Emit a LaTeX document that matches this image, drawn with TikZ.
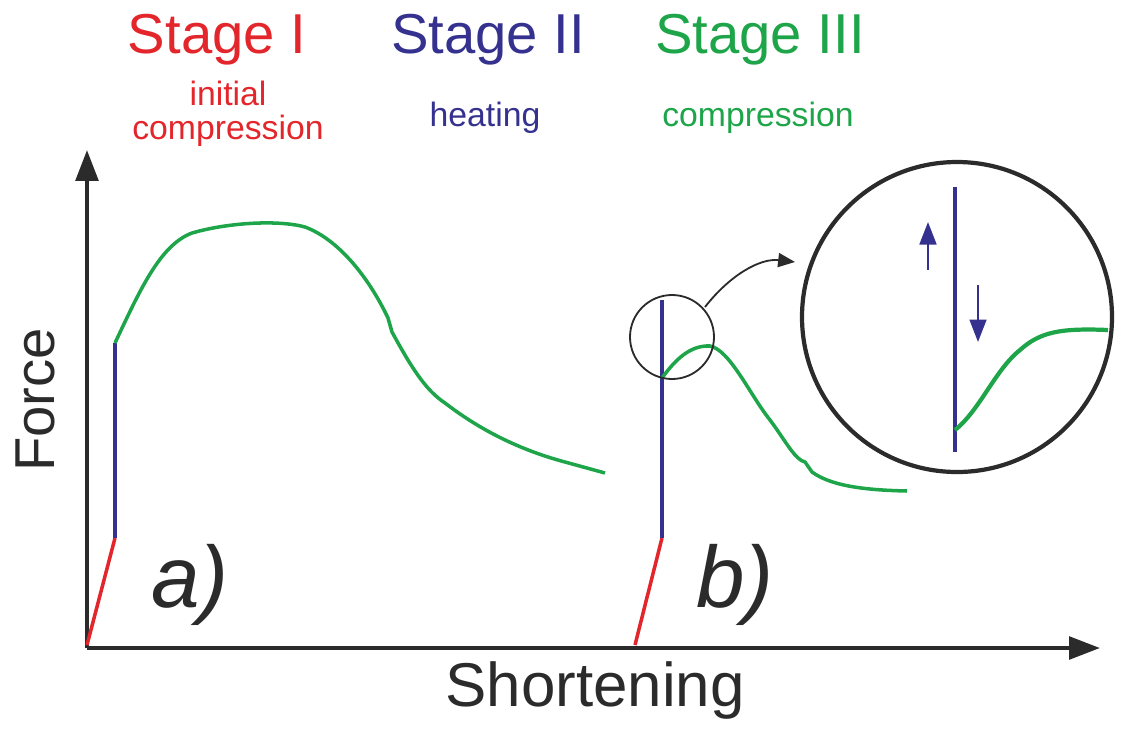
\documentclass[tikz,border=0pt]{standalone}
\usepackage{fontspec}
\setmainfont{Liberation Sans}
\usetikzlibrary{arrows.meta}
\definecolor{cr}{HTML}{E3262B}
\definecolor{cb}{HTML}{35318F}
\definecolor{cg}{HTML}{1EA54A}
\definecolor{ax}{HTML}{2B2B2B}
\begin{document}
\begin{tikzpicture}[x=0.025cm,y=-0.025cm,
  axis/.style={ax,line width=3pt,-{Triangle[length=22pt,width=16pt]}},
  rl/.style={cr,line width=2.5pt},
  bl/.style={cb,line width=2.5pt},
  gl/.style={cg,line width=2.5pt,line join=round},
  big/.style={font=\fontsize{40}{44}\selectfont},
  sub/.style={font=\fontsize{24}{27}\selectfont,align=center}]
\useasboundingbox (0,0) rectangle (1126,732);
\coordinate (o) at (87,648);
\coordinate (ytop) at (87,150);
\coordinate (xend) at (1100,648);
\draw[axis] (o) -- (ytop);
\draw[axis] (o) -- (xend);
% curve a
\coordinate (a0) at (87,645);
\coordinate (a1) at (115,538);
\coordinate (a2) at (115,343);
\draw[rl] (a0) -- (a1);
\draw[bl] (a1) -- (a2);
\draw[gl] (a2) .. controls (140,290) and (160,245) .. (192,233)
  .. controls (230,222) and (280,220) .. (305,227)
  .. controls (340,240) and (370,280) .. (388,318)
  -- (392,332) .. controls (410,365) and (425,390) .. (445,403)
  .. controls (480,430) and (520,450) .. (565,462) -- (605,473);
% curve b
\coordinate (b0) at (635,645);
\coordinate (b1) at (662,538);
\coordinate (b2) at (662,300);
\draw[rl] (b0) -- (b1);
\draw[bl] (b1) -- (b2);
\draw[gl] (662,378) .. controls (675,360) and (690,345) .. (710,346)
  .. controls (730,350) and (750,395) .. (770,420)
  .. controls (785,440) and (795,460) .. (805,462) -- (812,472)
  .. controls (830,485) and (860,490) .. (907,491);
% zoom
\node[draw=ax,line width=1.3pt,circle,minimum size=84*0.025cm] (sc) at (672,337) {};
\node[draw=ax,line width=3pt,circle,minimum size=310*0.025cm] (bc) at (957,317) {};
\coordinate (zs) at (705,307);
\coordinate (ze) at (795,262);
\draw[ax,line width=1.3pt,-{Triangle[length=12pt,width=10pt]}] (zs) .. controls (730,275) and (760,258) .. (ze);
\draw[bl,line width=3pt] (955,187) -- (955,452);
\draw[gl,line width=3pt] (955,430) .. controls (980,410) and (995,370) .. (1020,350)
  .. controls (1040,332) and (1060,328) .. (1108,330);
\draw[cb,line width=1.5pt,-{Triangle[length=16pt,width=12pt]}] (928,270) -- (928,222);
\draw[cb,line width=1.5pt,-{Triangle[length=16pt,width=12pt]}] (978,285) -- (978,342);
% texts
\node[big,text=cr] (s1) at (217,40) {Stage I};
\node[sub,text=cr] (s1t) at (228,114) {initial\\[-3pt]compression};
\node[big,text=cb] (s2) at (488,40) {Stage II};
\node[sub,text=cb] (s2t) at (485,118) {heating};
\node[big,text=cg] (s3) at (760,40) {Stage III};
\node[sub,text=cg] (s3t) at (758,118) {compression};
\node[big,text=ax,rotate=90] (f) at (35,400) {Force};
\node[text=ax,font=\fontsize{44}{48}\selectfont] (sh) at (595,690) {Shortening};
\node[text=ax,font=\fontsize{62}{66}\selectfont\itshape] (la) at (190,585) {a)};
\node[text=ax,font=\fontsize{62}{66}\selectfont\itshape] (lb) at (735,585) {b)};
\end{tikzpicture}
\end{document}
